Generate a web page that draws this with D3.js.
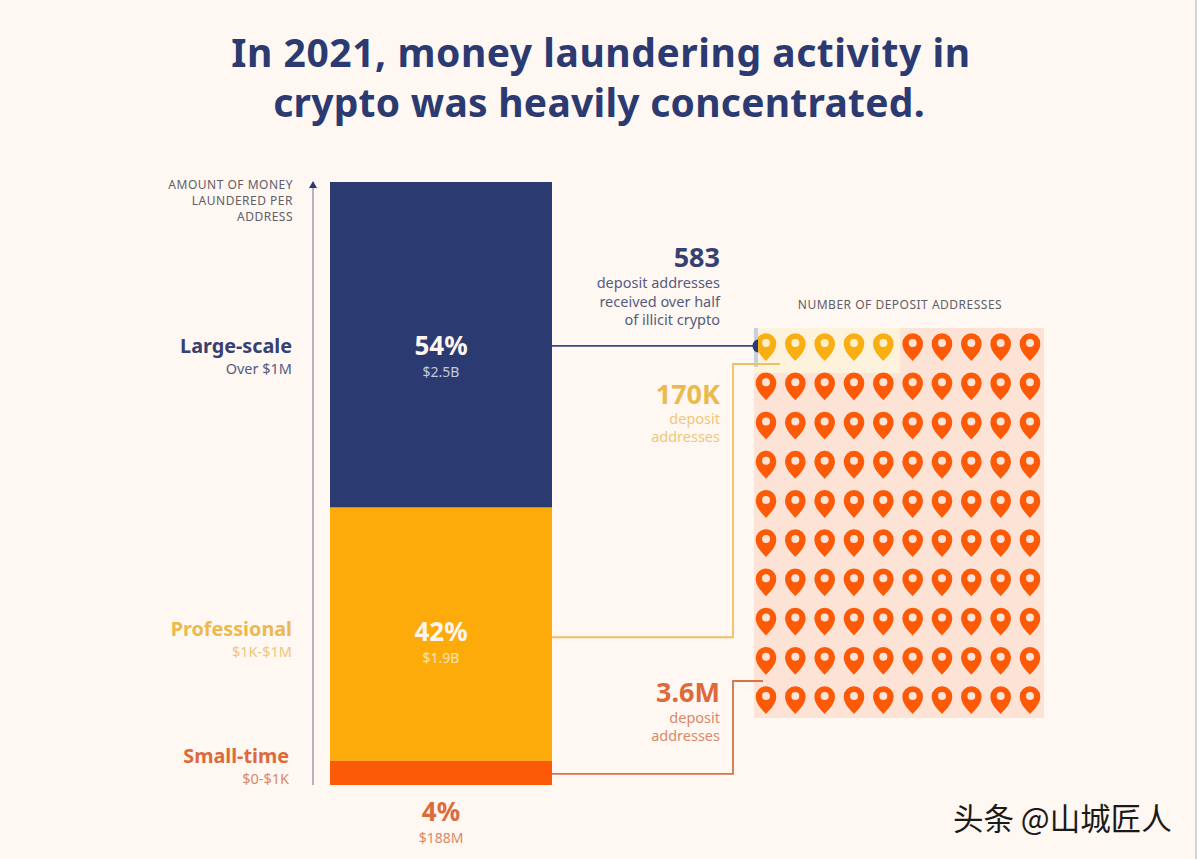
<!DOCTYPE html>
<html>
<head>
<meta charset="utf-8">
<script src="https://cdn.jsdelivr.net/npm/d3@7"></script>
<style>
html, body { margin: 0; padding: 0; background: #fef7f2; overflow: hidden; }
text { font-family: "Noto Sans", Lato, sans-serif; }
</style>
</head>
<body>
<div id="my_dataviz"></div>
<script>
var width = 1197, height = 859;

// the data
var titleLines = ["In 2021, money laundering activity in", "crypto was heavily concentrated."];
var axisTitle = ["AMOUNT OF MONEY", "LAUNDERED PER", "ADDRESS"];
var gridTitle = "NUMBER OF DEPOSIT ADDRESSES";
var categories = ["Large-scale", "Professional", "Small-time"];
var ranges = ["Over $1M", "$1K-$1M", "$0-$1K"];
var shares = [54, 42, 4];
var amounts = ["$2.5B", "$1.9B", "$188M"];
var addressCounts = ["583", "170K", "3.6M"];
var addressNotes = [
    ["deposit addresses", "received over half", "of illicit crypto"],
    ["deposit", "addresses"],
    ["deposit", "addresses"]
];
var pinCategories = ["Professional", "Small-time"];
var pinCounts = [5, 95];
var gridColumns = [0, 1, 2, 3, 4, 5, 6, 7, 8, 9];
var gridRows = [0, 1, 2, 3, 4, 5, 6, 7, 8, 9];
var watermark = "头条 @山城匠人";

var navy = "#2b3a70", amber = "#fdab0b", orange = "#fd5a08", grey = "#5f6068";

var color = d3.scaleOrdinal().domain(categories).range([navy, amber, orange]);
// text on the page is a bit softer than the bars
var textColor = d3.scaleOrdinal().domain(categories).range(["#37406f", "#ecb94e", "#dd6a3a"]);
var noteColor = d3.scaleOrdinal().domain(categories).range(["#555c80", "#efc779", "#d98a68"]);

var svg = d3.select("#my_dataviz")
    .append("svg")
    .attr("width", width)
    .attr("height", height)
    .style("display", "block");

svg.append("rect").attr("x", 1195).attr("y", 0).attr("width", 2).attr("height", height).attr("fill", "#d8d6d4");

// Title
svg.selectAll(".title")
    .data(titleLines)
    .enter()
    .append("text")
    .attr("class", "title")
    .attr("x", function (d, i) { return i == 0 ? 601 : 599 })
    .attr("y", function (d, i) { return 67 + i * 50 })
    .attr("text-anchor", "middle")
    .style("font-size", "39px")
    .style("font-weight", 700)
    .style("letter-spacing", function (d, i) { return i == 0 ? "0.55px" : "0.25px" })
    .style("fill", navy)
    .text(function (d) { return d });

// Stack the shares: top of the bar is the biggest group
var stacked = [];
var running = 100;
shares.forEach(function (s, i) {
    stacked.push({ name: categories[i], top: running, bottom: running - s, share: s, i: i });
    running -= s;
});

var y = d3.scaleLinear().domain([0, 100]).range([785, 182]);
var barLeft = 330, barRight = 552;

svg.selectAll(".bar")
    .data(stacked)
    .enter()
    .append("rect")
    .attr("class", "bar")
    .attr("x", barLeft)
    .attr("width", barRight - barLeft)
    .attr("y", function (d) { return y(d.top) })
    .attr("height", function (d) { return y(d.bottom) - y(d.top) })
    .attr("fill", function (d) { return color(d.name) });

// Axis arrow
svg.append("line")
    .attr("x1", 313).attr("x2", 313)
    .attr("y1", y(0)).attr("y2", y(100) + 6)
    .attr("stroke", "#8f90a4")
    .attr("stroke-width", 1.3);
svg.append("path")
    .attr("d", d3.line()([[309, 188], [317, 188], [313, 181]]))
    .attr("fill", navy);

svg.selectAll(".axisTitle")
    .data(axisTitle)
    .enter()
    .append("text")
    .attr("class", "axisTitle")
    .attr("x", 293)
    .attr("y", function (d, i) { return 189 + i * 16 })
    .attr("text-anchor", "end")
    .style("font-size", "12px")
    .style("letter-spacing", "0.5px")
    .style("fill", grey)
    .text(function (d) { return d });

// Category labels, left of the arrow
var labelY = [353, 636, 763];
var labelX = [292, 292, 289];
svg.selectAll(".cat")
    .data(stacked)
    .enter()
    .append("text")
    .attr("class", "cat")
    .attr("x", function (d) { return labelX[d.i] })
    .attr("y", function (d) { return labelY[d.i] })
    .attr("text-anchor", "end")
    .style("font-size", "19.8px")
    .style("font-weight", 700)
    .style("fill", function (d) { return textColor(d.name) })
    .text(function (d) { return d.name });
svg.selectAll(".range")
    .data(stacked)
    .enter()
    .append("text")
    .attr("class", "range")
    .attr("x", function (d) { return labelX[d.i] })
    .attr("y", function (d) { return labelY[d.i] + 21 })
    .attr("text-anchor", "end")
    .style("font-size", "14.5px")
    .style("fill", function (d) { return noteColor(d.name) })
    .text(function (d) { return ranges[d.i] });

// Percent and amount labels
var barMid = (barLeft + barRight) / 2;
var shareY = [355, 641, 821];
svg.selectAll(".share")
    .data(stacked)
    .enter()
    .append("text")
    .attr("class", "share")
    .attr("x", barMid)
    .attr("y", function (d) { return shareY[d.i] })
    .attr("text-anchor", "middle")
    .style("font-size", "26px")
    .style("font-weight", 700)
    .style("fill", function (d) { return d.i == 2 ? textColor(d.name) : "#fdf6f0" })
    .text(function (d) { return d.share + "%" });
svg.selectAll(".amount")
    .data(stacked)
    .enter()
    .append("text")
    .attr("class", "amount")
    .attr("x", barMid)
    .attr("y", function (d) { return shareY[d.i] + 21.5 })
    .attr("text-anchor", "middle")
    .style("font-size", "14px")
    .style("fill", function (d) { return d.i == 2 ? noteColor(d.name) : (d.i == 0 ? "#c5c9da" : "#fde3ae") })
    .text(function (d) { return amounts[d.i] });

// Pin grid
var col = d3.scalePoint().domain(gridColumns).range([766, 1030]);
var row = d3.scalePoint().domain(gridRows).range([345, 698]);

svg.append("rect").attr("x", 754).attr("y", 328).attr("width", 290).attr("height", 390).attr("fill", "#fce3d5");
svg.append("rect").attr("x", 754).attr("y", 328).attr("width", 146).attr("height", 45).attr("fill", "#fdf3dc");
svg.append("rect").attr("x", 754).attr("y", 328).attr("width", 4).attr("height", 39).attr("fill", "#c9d0dc");

svg.append("text")
    .attr("x", 900)
    .attr("y", 309)
    .attr("text-anchor", "middle")
    .style("font-size", "12px")
    .style("letter-spacing", "0.5px")
    .style("fill", grey)
    .text(gridTitle);

var pins = [];
var pinGroup = 0, left = pinCounts[0];
gridRows.forEach(function (r) {
    gridColumns.forEach(function (c) {
        if (left == 0) { pinGroup++; left = pinCounts[pinGroup]; }
        pins.push({ r: r, c: c, name: pinCategories[pinGroup] });
        left--;
    });
});

var pinShape = "M0,16 C-4,11.5 -10.3,6 -10.3,-1.5 A10.3,10.3 0 1 1 10.3,-1.5 C10.3,6 4,11.5 0,16 Z";
var pin = svg.selectAll(".pin")
    .data(pins)
    .enter()
    .append("g")
    .attr("class", "pin")
    .attr("transform", function (d) { return "translate(" + col(d.c) + "," + row(d.r) + ")" });
pin.append("path")
    .attr("d", pinShape)
    .attr("fill", function (d) { return d.name == "Professional" ? "#f9ae14" : orange });
pin.append("circle")
    .attr("cy", -2)
    .attr("r", 4)
    .attr("fill", function (d) { return d.name == "Professional" ? "#fdf0c8" : "#fde3d5" });

// Connectors from the bar to the pins
var midY = function (d) { return (y(d.top) + y(d.bottom)) / 2 };
var link = d3.line();
var linkEnds = [null, [[733, 364], [780, 364]], [[733, 681], [763, 681]]];
svg.selectAll(".link")
    .data(stacked)
    .enter()
    .append("path")
    .attr("class", "link")
    .attr("d", function (d) {
        var pts = [[barRight, midY(d) + (d.i == 1 ? 3 : 1)]];
        if (d.i == 0) pts.push([757, midY(d) + 1]);
        else pts = pts.concat([[733, midY(d) + (d.i == 1 ? 3 : 1)]], linkEnds[d.i]);
        return link(pts);
    })
    .attr("fill", "none")
    .attr("stroke", function (d) { return ["#3d4a7c", "#efc062", "#d9714a"][d.i] })
    .attr("stroke-width", 1.8);

// navy half dot at the end of the first connector
svg.append("path")
    .attr("d", "M758,339.5 A5.5,6.5 0 0 0 758,352.5 Z")
    .attr("fill", navy);

// Address counts
var countY = [267, 404, 702];
svg.selectAll(".count")
    .data(stacked)
    .enter()
    .append("text")
    .attr("class", "count")
    .attr("x", 720)
    .attr("y", function (d) { return countY[d.i] })
    .attr("text-anchor", "end")
    .style("font-size", "27px")
    .style("font-weight", 700)
    .style("fill", function (d) { return textColor(d.name) })
    .text(function (d) { return addressCounts[d.i] });

var noteStart = [21, 20, 21];
var noteGap = [18.5, 18, 18];
stacked.forEach(function (d) {
    svg.selectAll(".note" + d.i)
        .data(addressNotes[d.i])
        .enter()
        .append("text")
        .attr("class", "note" + d.i)
        .attr("x", 720)
        .attr("y", function (t, i) { return countY[d.i] + noteStart[d.i] + i * noteGap[d.i] })
        .attr("text-anchor", "end")
        .style("font-size", "14.5px")
        .style("fill", noteColor(d.name))
        .text(function (t) { return t });
});

// Watermark
svg.append("text")
    .attr("x", 953)
    .attr("y", 830)
    .style("font-family", '"Noto Sans CJK SC", sans-serif')
    .style("font-size", "30.5px")
    .style("fill", "#1a1a1a")
    .text(watermark);
</script>
</body>
</html>
